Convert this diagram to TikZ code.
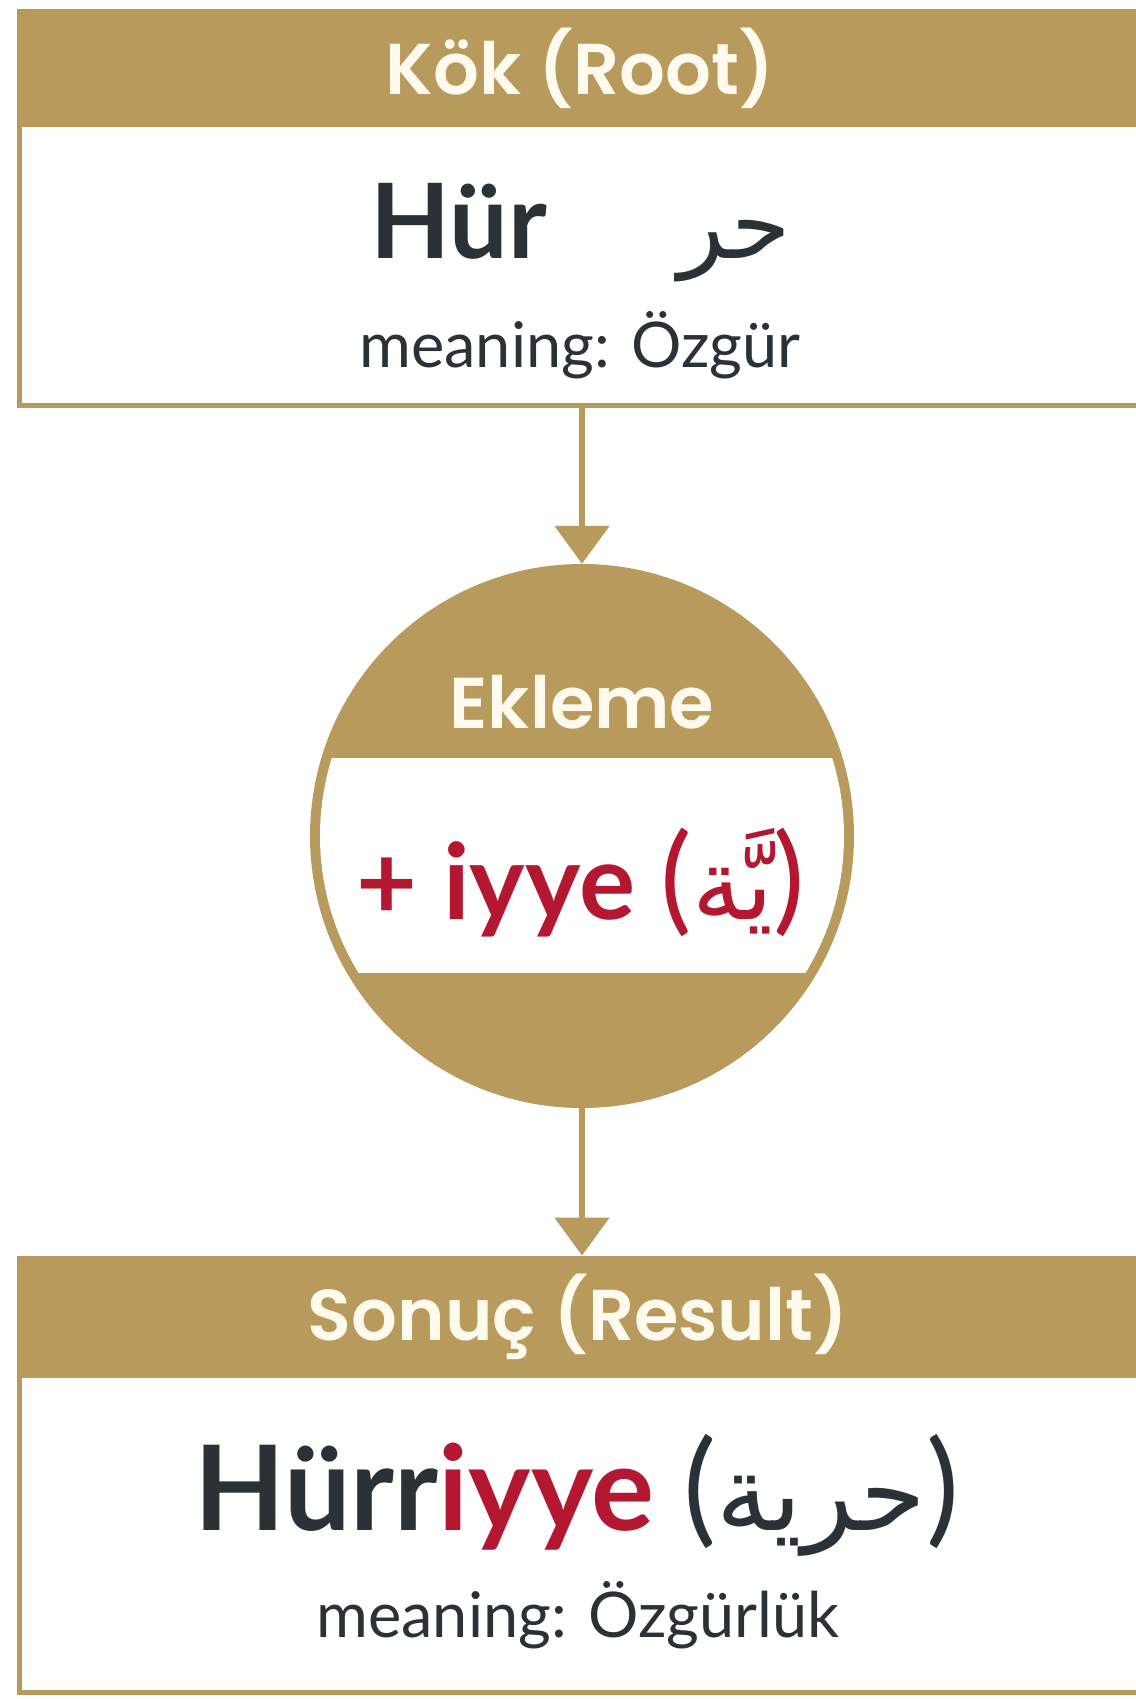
\documentclass[tikz,border=0pt]{standalone}
\usepackage{fontspec}
\setmainfont{Lato}
\newfontfamily\headfont{Poppins SemiBold}
\newfontfamily\arabicfont[Script=Arabic]{DejaVu Sans}
\TeXXeTstate=1
\usetikzlibrary{arrows.meta}
\definecolor{gold}{RGB}{184,155,92}
\definecolor{cream}{RGB}{255,250,238}
\definecolor{ink}{RGB}{42,50,56}
\definecolor{wine}{RGB}{180,24,48}
\tikzset{
  headband/.style={draw=gold, fill=gold, line width=5pt, minimum width=1126pt, inner sep=0pt},
  bodybox/.style={draw=gold, fill=white, line width=5pt, minimum width=1126pt, inner sep=0pt},
  headtext/.style={font=\headfont\fontsize{72}{80}\selectfont, text=cream, inner sep=0pt},
  bigtext/.style={font=\bfseries\fontsize{104}{110}\selectfont, text=ink, inner sep=0pt},
  meantext/.style={font=\fontsize{63}{70}\selectfont, text=ink, inner sep=0pt},
  conn/.style={draw=gold, line width=5.5pt, -{Triangle[width=54pt,length=38pt]}}
}
\newcommand{\lpar}{{\mdseries\fontsize{118}{120}\selectfont(}}
\newcommand{\rpar}{{\mdseries\fontsize{118}{120}\selectfont)}}
\newcommand{\blpar}{{\mdseries\fontsize{124}{126}\selectfont(}}
\newcommand{\brpar}{{\mdseries\fontsize{124}{126}\selectfont)}}
\begin{document}
\begin{tikzpicture}[x=1pt,y=-1pt]
\useasboundingbox (0,0) rectangle (1135,1699);
\fill[white] (0,0) rectangle (1135,1699);

% top box
\node[headband, minimum height=113pt] (tophead) at (582,68.5) {};
\node[bodybox, minimum height=280pt] (topbody) at (582,265) {};
\node[headtext, anchor=base] (t1) at (580,95) {Kök (Root)};
\node[bigtext, anchor=base west] (hur) at (370,258) {Hür};
\node[font=\arabicfont\fontsize{96}{100}\selectfont, text=ink, anchor=base east, inner sep=0pt] (hurar) at (791,258) {\beginR حر\endR};
\node[meantext, anchor=base] (m1) at (580,367) {meaning: Özgür};

% circle
\node[circle, fill=gold, minimum size=544pt, inner sep=0pt] (ring) at (582,836) {};
\begin{scope}
  \clip (582,836) circle (262);
  \fill[white] (300,758) rectangle (870,973);
\end{scope}
\node[headtext, anchor=base] (ek) at (582,728) {Ekleme};
\node[font=\bfseries\fontsize{105}{110}\selectfont, text=wine, anchor=base, inner sep=0pt] (suf) at (581,919) {+ iyye \lpar{\arabicfont\mdseries\fontsize{100}{110}\selectfont\beginR يَّة\endR}\rpar};

% bottom box
\node[headband, minimum height=117pt] (bothead) at (582,1316.5) {};
\node[bodybox, minimum height=317pt] (botbody) at (582,1533.5) {};
\node[headtext, anchor=base] (t2) at (578,1340) {Sonuç (Result)};
\node[font=\bfseries\fontsize{118}{120}\selectfont, text=ink, anchor=base, inner sep=0pt] (res) at (577,1530) {Hürr\textcolor{wine}{iyye} \blpar{\arabicfont\mdseries\fontsize{106}{110}\selectfont\beginR حرية\endR}\brpar};
\node[meantext, anchor=base] (m2) at (578,1637) {meaning: Özgürlük};

% connectors
\draw[conn] (topbody.south) -- (ring.north);
\draw[conn] (ring.south) -- (bothead.north);
\end{tikzpicture}
\end{document}
